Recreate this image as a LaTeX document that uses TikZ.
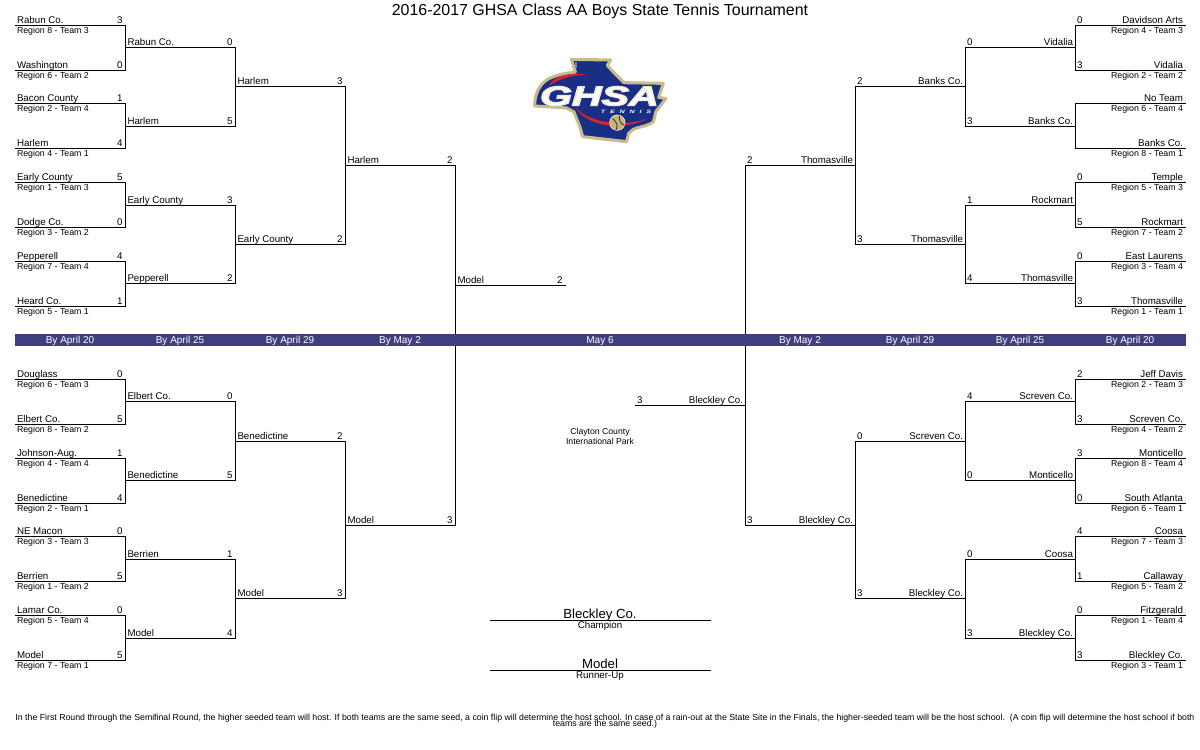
\documentclass[tikz,border=0pt]{standalone}
\usepackage{fontspec}
\setmainfont{Liberation Sans}
\definecolor{bandblue}{HTML}{3F3F7F}
\definecolor{lnavy}{HTML}{182F85}
\definecolor{lgold}{HTML}{C8BC8C}
\definecolor{lball}{HTML}{C9B468}
\definecolor{lred}{HTML}{D9232E}
\definecolor{lcream}{HTML}{F0ECDC}
\tikzset{
  bline/.style={line width=0.75pt,black,line cap=rect},
  txt/.style={inner sep=0pt,outer sep=0pt,text=black,font=\fontsize{7.3pt}{8pt}\selectfont},
  reg/.style={txt,font=\fontsize{6.6pt}{7pt}\selectfont},
  bandtxt/.style={txt,text=white,anchor=base,font=\fontsize{7.5pt}{8pt}\selectfont},
  final/.style={txt,anchor=base,font=\fontsize{9.9pt}{11pt}\selectfont},
  venue/.style={txt,anchor=base,font=\fontsize{6.5pt}{7pt}\selectfont},
  foot/.style={txt,anchor=base,font=\fontsize{6.57pt}{7pt}\selectfont},
  title/.style={txt,anchor=base,font=\fontsize{11.95pt}{14pt}\selectfont},
}
% left-hand slot: id, x1, x2, y, team, score
\newcommand{\slotL}[6]{%
  \coordinate (#1a) at (#2,#4);
  \coordinate (#1b) at (#3,#4);
  \draw[bline] (#1a) -- (#1b);
  \node[txt,anchor=base west] (#1t) at (#2+2,#4-1.9) {#5};
  \node[txt,anchor=base east] (#1s) at (#3-3,#4-1.9) {#6};
}
% right-hand slot: id, x1, x2, y, team, score
\newcommand{\slotR}[6]{%
  \coordinate (#1a) at (#2,#4);
  \coordinate (#1b) at (#3,#4);
  \draw[bline] (#1a) -- (#1b);
  \node[txt,anchor=base east] (#1t) at (#3-2.5,#4-1.9) {#5};
  \node[txt,anchor=base west] (#1s) at (#2+1.5,#4-1.9) {#6};
}
\newcommand{\regL}[3]{\node[reg,anchor=base west] (#1r) at (17,#2+7.9) {#3};}
\newcommand{\regR}[3]{\node[reg,anchor=base east] (#1r) at (1183,#2+7.9) {#3};}
\begin{document}
\begin{tikzpicture}[x=0.75pt,y=-0.75pt]
\useasboundingbox (0,0) rectangle (1200,750);
\fill[white] (0,0) rectangle (1200,750);

% ---------- logo ----------
\begin{scope}[shift={(500,40)},x=0.25pt,y=-0.25pt]
  \filldraw[fill=lnavy,draw=lgold,line width=2.3pt,line join=round]
    (214,58) -- (332,60) -- (322,76) -- (340,96) -- (372,128) -- (490,130)
    -- (476,172) -- (498,176) -- (468,214) -- (460,246)
    .. controls (440,260) and (410,262) .. (400,268) -- (386,280)
    -- (380,305) -- (248,290) -- (240,262) -- (222,216) -- (200,204)
    -- (104,198) .. controls (104,170) and (112,146) .. (130,128)
    .. controls (150,108) and (190,100) .. (226,96) -- cycle;
  \fill[lnavy!60!white] (226,66) rectangle (231,84);
  \fill[lred] (146,138) .. controls (160,108) and (210,96) .. (264,104)
    .. controls (215,104) and (180,116) .. (146,138) -- cycle;
  \fill[lred] (226,202) .. controls (270,250) and (370,262) .. (442,236)
    .. controls (370,274) and (262,262) .. (226,202) -- cycle;
  \node[inner sep=0pt,outer sep=0pt,text=white,transform shape,xscale=1.5,
    font=\fontsize{20.5pt}{21pt}\selectfont\bfseries\itshape] (logotext) at (298,168)
    {\special{pdf:code 2 Tr 0.9 w 0.94 0.92 0.84 RG}GHSA\special{pdf:code 0 Tr}};
  \node[inner sep=0pt,outer sep=0pt,text=white,transform shape,xscale=1.5,
    font=\fontsize{3.6pt}{4pt}\selectfont\bfseries\itshape] (logosub) at (378,216)
    {T\kern2.4pt E\kern2.4pt N\kern2.4pt N\kern2.4pt I\kern2.4pt S};
  \filldraw[fill=lball,draw=lcream,line width=0.5pt] (352,248) circle (23);
  \draw[lnavy,line width=0.6pt] (338,236) .. controls (352,246) and (354,258) .. (348,270);
  \draw[lnavy,line width=0.6pt] (358,227) .. controls (356,242) and (364,254) .. (374,256);
\end{scope}

% ---------- left top ----------
\slotL{a1}{15}{125.5}{25.5}{Rabun Co.}{3}\regL{a1}{25.5}{Region 8 - Team 3}
\slotL{a2}{15}{125.5}{70.5}{Washington}{0}\regL{a2}{70.5}{Region 6 - Team 2}
\slotL{a3}{15}{125.5}{103.5}{Bacon County}{1}\regL{a3}{103.5}{Region 2 - Team 4}
\slotL{a4}{15}{125.5}{148.5}{Harlem}{4}\regL{a4}{148.5}{Region 4 - Team 1}
\slotL{a5}{15}{125.5}{182.5}{Early County}{5}\regL{a5}{182.5}{Region 1 - Team 3}
\slotL{a6}{15}{125.5}{227.5}{Dodge Co.}{0}\regL{a6}{227.5}{Region 3 - Team 2}
\slotL{a7}{15}{125.5}{261.5}{Pepperell}{4}\regL{a7}{261.5}{Region 7 - Team 4}
\slotL{a8}{15}{125.5}{306.5}{Heard Co.}{1}\regL{a8}{306.5}{Region 5 - Team 1}
\slotL{b1}{125.5}{235.5}{47.5}{Rabun Co.}{0}
\slotL{b2}{125.5}{235.5}{126.5}{Harlem}{5}
\slotL{b3}{125.5}{235.5}{205.5}{Early County}{3}
\slotL{b4}{125.5}{235.5}{283.5}{Pepperell}{2}
\slotL{c1}{235.5}{345.5}{86.5}{Harlem}{3}
\slotL{c2}{235.5}{345.5}{244.5}{Early County}{2}
\slotL{d1}{345.5}{455.5}{165.5}{Harlem}{2}
\draw[bline] (a1b) -- (a2b);
\draw[bline] (a3b) -- (a4b);
\draw[bline] (a5b) -- (a6b);
\draw[bline] (a7b) -- (a8b);
\draw[bline] (b1b) -- (b2b);
\draw[bline] (b3b) -- (b4b);
\draw[bline] (c1b) -- (c2b);

% ---------- left bottom ----------
\slotL{e1}{15}{125.5}{379.5}{Douglass}{0}\regL{e1}{379.5}{Region 6 - Team 3}
\slotL{e2}{15}{125.5}{424.5}{Elbert Co.}{5}\regL{e2}{424.5}{Region 8 - Team 2}
\slotL{e3}{15}{125.5}{458.5}{Johnson-Aug.}{1}\regL{e3}{458.5}{Region 4 - Team 4}
\slotL{e4}{15}{125.5}{503.5}{Benedictine}{4}\regL{e4}{503.5}{Region 2 - Team 1}
\slotL{e5}{15}{125.5}{536.5}{NE Macon}{0}\regL{e5}{536.5}{Region 3 - Team 3}
\slotL{e6}{15}{125.5}{581.5}{Berrien}{5}\regL{e6}{581.5}{Region 1 - Team 2}
\slotL{e7}{15}{125.5}{615.5}{Lamar Co.}{0}\regL{e7}{615.5}{Region 5 - Team 4}
\slotL{e8}{15}{125.5}{660.5}{Model}{5}\regL{e8}{660.5}{Region 7 - Team 1}
\slotL{f1}{125.5}{235.5}{401.5}{Elbert Co.}{0}
\slotL{f2}{125.5}{235.5}{480.5}{Benedictine}{5}
\slotL{f3}{125.5}{235.5}{559.5}{Berrien}{1}
\slotL{f4}{125.5}{235.5}{638.5}{Model}{4}
\slotL{g1}{235.5}{345.5}{441.5}{Benedictine}{2}
\slotL{g2}{235.5}{345.5}{598.5}{Model}{3}
\slotL{h1}{345.5}{455.5}{525.5}{Model}{3}
\slotL{k1}{455.5}{565.5}{285.5}{Model}{2}
\draw[bline] (e1b) -- (e2b);
\draw[bline] (e3b) -- (e4b);
\draw[bline] (e5b) -- (e6b);
\draw[bline] (e7b) -- (e8b);
\draw[bline] (f1b) -- (f2b);
\draw[bline] (f3b) -- (f4b);
\draw[bline] (g1b) -- (g2b);
\draw[bline] (d1b) -- (h1b);

% ---------- right top ----------
\slotR{m1}{1075.5}{1185.5}{25.5}{Davidson Arts}{0}\regR{m1}{25.5}{Region 4 - Team 3}
\slotR{m2}{1075.5}{1185.5}{70.5}{Vidalia}{3}\regR{m2}{70.5}{Region 2 - Team 2}
\slotR{m3}{1075.5}{1185.5}{103.5}{No Team}{}\regR{m3}{103.5}{Region 6 - Team 4}
\slotR{m4}{1075.5}{1185.5}{148.5}{Banks Co.}{}\regR{m4}{148.5}{Region 8 - Team 1}
\slotR{m5}{1075.5}{1185.5}{182.5}{Temple}{0}\regR{m5}{182.5}{Region 5 - Team 3}
\slotR{m6}{1075.5}{1185.5}{227.5}{Rockmart}{5}\regR{m6}{227.5}{Region 7 - Team 2}
\slotR{m7}{1075.5}{1185.5}{261.5}{East Laurens}{0}\regR{m7}{261.5}{Region 3 - Team 4}
\slotR{m8}{1075.5}{1185.5}{306.5}{Thomasville}{3}\regR{m8}{306.5}{Region 1 - Team 1}
\slotR{n1}{965.5}{1075.5}{47.5}{Vidalia}{0}
\slotR{n2}{965.5}{1075.5}{126.5}{Banks Co.}{3}
\slotR{n3}{965.5}{1075.5}{205.5}{Rockmart}{1}
\slotR{n4}{965.5}{1075.5}{283.5}{Thomasville}{4}
\slotR{p1}{855.5}{965.5}{86.5}{Banks Co.}{2}
\slotR{p2}{855.5}{965.5}{244.5}{Thomasville}{3}
\slotR{q1}{745.5}{855.5}{165.5}{Thomasville}{2}
\draw[bline] (m1a) -- (m2a);
\draw[bline] (m3a) -- (m4a);
\draw[bline] (m5a) -- (m6a);
\draw[bline] (m7a) -- (m8a);
\draw[bline] (n1a) -- (n2a);
\draw[bline] (n3a) -- (n4a);
\draw[bline] (p1a) -- (p2a);

% ---------- right bottom ----------
\slotR{r1}{1075.5}{1185.5}{379.5}{Jeff Davis}{2}\regR{r1}{379.5}{Region 2 - Team 3}
\slotR{r2}{1075.5}{1185.5}{424.5}{Screven Co.}{3}\regR{r2}{424.5}{Region 4 - Team 2}
\slotR{r3}{1075.5}{1185.5}{458.5}{Monticello}{3}\regR{r3}{458.5}{Region 8 - Team 4}
\slotR{r4}{1075.5}{1185.5}{503.5}{South Atlanta}{0}\regR{r4}{503.5}{Region 6 - Team 1}
\slotR{r5}{1075.5}{1185.5}{536.5}{Coosa}{4}\regR{r5}{536.5}{Region 7 - Team 3}
\slotR{r6}{1075.5}{1185.5}{581.5}{Callaway}{1}\regR{r6}{581.5}{Region 5 - Team 2}
\slotR{r7}{1075.5}{1185.5}{615.5}{Fitzgerald}{0}\regR{r7}{615.5}{Region 1 - Team 4}
\slotR{r8}{1075.5}{1185.5}{660.5}{Bleckley Co.}{3}\regR{r8}{660.5}{Region 3 - Team 1}
\slotR{s1}{965.5}{1075.5}{401.5}{Screven Co.}{4}
\slotR{s2}{965.5}{1075.5}{480.5}{Monticello}{0}
\slotR{s3}{965.5}{1075.5}{559.5}{Coosa}{0}
\slotR{s4}{965.5}{1075.5}{638.5}{Bleckley Co.}{3}
\slotR{u1}{855.5}{965.5}{441.5}{Screven Co.}{0}
\slotR{u2}{855.5}{965.5}{598.5}{Bleckley Co.}{3}
\slotR{v1}{745.5}{855.5}{525.5}{Bleckley Co.}{3}
\slotR{w1}{635.5}{745.5}{405.5}{Bleckley Co.}{3}
\draw[bline] (r1a) -- (r2a);
\draw[bline] (r3a) -- (r4a);
\draw[bline] (r5a) -- (r6a);
\draw[bline] (r7a) -- (r8a);
\draw[bline] (s1a) -- (s2a);
\draw[bline] (s3a) -- (s4a);
\draw[bline] (u1a) -- (u2a);
\draw[bline] (q1a) -- (v1a);

% ---------- date band ----------
\fill[bandblue] (15,334) rectangle (1186,346);
\node[bandtxt] (t1) at (70,343.3) {By April 20};
\node[bandtxt] (t2) at (180,343.3) {By April 25};
\node[bandtxt] (t3) at (290,343.3) {By April 29};
\node[bandtxt] (t4) at (400,343.3) {By May 2};
\node[bandtxt] (t5) at (600,343.3) {May 6};
\node[bandtxt] (t6) at (800,343.3) {By May 2};
\node[bandtxt] (t7) at (910,343.3) {By April 29};
\node[bandtxt] (t8) at (1020,343.3) {By April 25};
\node[bandtxt] (t9) at (1130,343.3) {By April 20};

% ---------- centre ----------
\node[title] (title) at (600,15.5) {2016-2017 GHSA Class AA Boys State Tennis Tournament};
\node[venue] (v1) at (600,434) {Clayton County};
\node[venue] (v2) at (600,444) {International Park};
\coordinate (cha) at (490,620.5); \coordinate (chb) at (710.5,620.5);
\draw[bline] (cha) -- (chb);
\node[final] (champ) at (600,618.2) {Bleckley Co.};
\node[txt,anchor=base] (champl) at (600,628.5) {Champion};
\coordinate (rua) at (490,670.5); \coordinate (rub) at (710.5,670.5);
\draw[bline] (rua) -- (rub);
\node[final] (ru) at (600,668.2) {Model};
\node[txt,anchor=base] (rul) at (600,678.5) {Runner-Up};
\node[foot] (f1) at (605,720) {In the First Round through the Semifinal Round, the higher seeded team will host. If both teams are the same seed, a coin flip will determine the host school. In case of a rain-out at the State Site in the Finals, the higher-seeded team will be the host school.\ \ (A coin flip will determine the host school if both};
\node[foot] (f2) at (605,726.8) {teams are the same seed.)};
\end{tikzpicture}
\end{document}
